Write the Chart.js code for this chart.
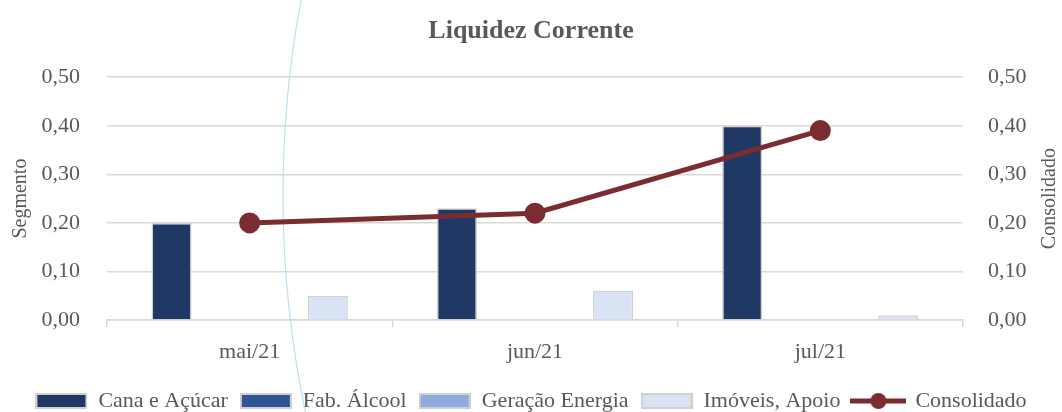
<!DOCTYPE html>
<html>
<head>
<meta charset="utf-8">
<script src="https://cdn.jsdelivr.net/npm/chart.js@4.4.0/dist/chart.umd.min.js"></script>
<style>
  html, body { margin: 0; padding: 0; background: #fff; }
  #wrap { width: 1062px; height: 412px; }
</style>
</head>
<body>
<div id="wrap"><canvas id="liquidezChart"></canvas></div>
<script>
        const categories = ['mai/21', 'jun/21', 'jul/21'];
        const canaAcucar = [0.20, 0.23, 0.40];
        const fabAlcool = [0, 0, 0];
        const geracaoEnergia = [0, 0, 0];
        const imoveisApoio = [0.05, 0.06, 0.01];
        const consolidado = [0.20, 0.22, 0.39];

        const serif = "'Liberation Serif', 'DejaVu Serif', serif";
        const textGrey = '#595959';
        const gridGrey = '#d9d9d9';
        const lineRed = '#7b2c30';

        const fmt = v => v.toFixed(2).replace('.', ',');

        // legend icons
        const boxIcon = (fill) => {
            const c = document.createElement('canvas');
            c.width = 52; c.height = 16;
            const g = c.getContext('2d');
            g.fillStyle = '#d0d0d0';
            g.fillRect(0, 0, 52, 16);
            g.fillStyle = fill;
            g.fillRect(2, 2, 48, 12);
            return c;
        };
        const lineIcon = () => {
            const c = document.createElement('canvas');
            c.width = 56; c.height = 18;
            const g = c.getContext('2d');
            g.strokeStyle = lineRed;
            g.lineWidth = 5;
            g.beginPath(); g.moveTo(0, 9); g.lineTo(56, 9); g.stroke();
            g.fillStyle = lineRed;
            g.beginPath(); g.arc(28, 9, 8, 0, Math.PI * 2); g.fill();
            return c;
        };

        // faint decorative arc seen in the original picture
        const arcPlugin = {
            id: 'arcDeco',
            beforeDatasetsDraw(chart) {
                const ctx = chart.ctx;
                ctx.save();
                ctx.strokeStyle = '#bfdfec';
                ctx.lineWidth = 1.2;
                ctx.beginPath();
                ctx.arc(1335, 195, 1052, Math.PI * 0.88, Math.PI * 1.12);
                ctx.stroke();
                ctx.restore();
            }
        };

        // right axis title reads bottom-to-top like the left one
        const rightTitlePlugin = {
            id: 'rightTitle',
            afterDraw(chart) {
                const ctx = chart.ctx;
                const area = chart.chartArea;
                ctx.save();
                ctx.translate(1050, (area.top + area.bottom) / 2);
                ctx.rotate(-Math.PI / 2);
                ctx.fillStyle = textGrey;
                ctx.font = "20px " + serif;
                ctx.textAlign = 'center';
                ctx.textBaseline = 'middle';
                ctx.fillText('Consolidado', 0, 0);
                ctx.restore();
            }
        };

        // push legend closer to the bottom edge
        const legendShift = {
            id: 'legendShift',
            beforeInit(chart) {
                const origFit = chart.legend.fit;
                chart.legend.fit = function () {
                    origFit.bind(chart.legend)();
                    this.height -= 10;
                };
            }
        };

        const barBase = {
            type: 'bar',
            yAxisID: 'y',
            borderColor: '#d0d0d0',
            borderWidth: 1.5,
            categoryPercentage: 0.73,
            barPercentage: 0.77,
            order: 1
        };

        const ctx = document.getElementById('liquidezChart').getContext('2d');
        new Chart(ctx, {
            data: {
                labels: categories,
                datasets: [
                    { ...barBase, label: 'Cana e Açúcar', data: canaAcucar, backgroundColor: '#1f3864', icon: boxIcon('#1f3864') },
                    { ...barBase, label: 'Fab. Álcool', data: fabAlcool, backgroundColor: '#2f5597', icon: boxIcon('#2f5597') },
                    { ...barBase, label: 'Geração Energia', data: geracaoEnergia, backgroundColor: '#8faadc', icon: boxIcon('#8faadc') },
                    { ...barBase, label: 'Imóveis, Apoio', data: imoveisApoio, backgroundColor: '#dae3f3', icon: boxIcon('#dae3f3') },
                    {
                        type: 'line',
                        label: 'Consolidado',
                        data: consolidado,
                        yAxisID: 'y2',
                        borderColor: lineRed,
                        backgroundColor: lineRed,
                        borderWidth: 5,
                        pointRadius: 8,
                        pointHoverRadius: 8,
                        pointBackgroundColor: lineRed,
                        pointBorderColor: lineRed,
                        tension: 0,
                        order: 0,
                        icon: lineIcon()
                    }
                ]
            },
            options: {
                responsive: true,
                maintainAspectRatio: false,
                animation: false,
                layout: { padding: { left: 0, right: 0, top: 0, bottom: 0 } },
                plugins: {
                    title: {
                        display: true,
                        text: 'Liquidez Corrente',
                        color: textGrey,
                        font: { family: serif, size: 26, weight: 'bold' },
                        padding: { top: 16, bottom: 30 }
                    },
                    legend: {
                        position: 'bottom',
                        labels: {
                            usePointStyle: true,
                            pointStyleWidth: 52,
                            boxHeight: 16,
                            padding: 12,
                            color: textGrey,
                            font: { family: serif, size: 22 },
                            generateLabels: chart => chart.data.datasets.map((ds, i) => ({
                                text: ds.label,
                                pointStyle: ds.icon,
                                fillStyle: ds.backgroundColor,
                                strokeStyle: ds.borderColor,
                                fontColor: textGrey,
                                lineWidth: 0,
                                hidden: false,
                                datasetIndex: i
                            }))
                        }
                    },
                    tooltip: { enabled: false }
                },
                scales: {
                    x: {
                        offset: true,
                        grid: {
                            offset: true,
                            drawOnChartArea: false,
                            drawTicks: true,
                            tickLength: 7,
                            color: gridGrey,
                            lineWidth: 1.5
                        },
                        border: { color: gridGrey, width: 1.5 },
                        ticks: {
                            color: textGrey,
                            font: { family: serif, size: 22 },
                            padding: 12
                        },
                        afterFit: scale => { scale.height = 58; }
                    },
                    y: {
                        position: 'left',
                        min: 0,
                        max: 0.5,
                        ticks: {
                            stepSize: 0.1,
                            color: textGrey,
                            font: { family: serif, size: 22 },
                            padding: 27,
                            callback: v => fmt(v)
                        },
                        grid: { color: gridGrey, lineWidth: 1.5, drawTicks: false },
                        border: { display: false },
                        title: {
                            display: true,
                            text: 'Segmento',
                            color: textGrey,
                            font: { family: serif, size: 20 },
                            padding: { top: 9, bottom: 0 }
                        },
                        afterFit: scale => { scale.width = 107; }
                    },
                    y2: {
                        position: 'right',
                        min: 0,
                        max: 0.5,
                        ticks: {
                            stepSize: 0.1,
                            color: textGrey,
                            font: { family: serif, size: 22 },
                            padding: 25,
                            callback: v => fmt(v)
                        },
                        grid: { drawOnChartArea: false, drawTicks: false },
                        border: { display: false },
                        afterFit: scale => { scale.width = 99; }
                    }
                }
            },
            plugins: [arcPlugin, rightTitlePlugin, legendShift]
        });
    </script>
</body>
</html>
